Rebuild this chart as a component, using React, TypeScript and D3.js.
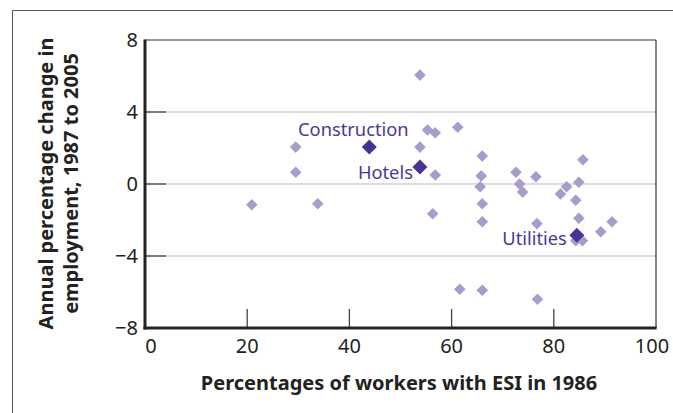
import React from 'react';
import * as d3 from 'd3';

// Percentage of workers with ESI in 1986 vs annual employment change
const esiShare = [20.9, 29.5, 29.5, 33.8, 53.8, 53.8, 55.3, 56.8, 56.8, 56.3, 61.2, 61.6, 66.0, 65.8, 65.6, 66.0, 66.0, 66.0, 72.6, 73.3, 73.9, 76.5, 76.7, 76.8, 81.3, 82.5, 84.3, 84.9, 85.7, 84.9, 84.3, 85.6, 89.2, 91.4];
const empChange = [-1.15, 2.05, 0.65, -1.1, 6.05, 2.05, 3.0, 2.85, 0.5, -1.65, 3.15, -5.85, 1.55, 0.45, -0.15, -1.1, -2.1, -5.9, 0.65, 0.0, -0.45, 0.4, -2.2, -6.4, -0.55, -0.15, -0.9, 0.1, 1.35, -1.9, -3.15, -3.15, -2.65, -2.1];

const highlightNames = ['Construction', 'Hotels', 'Utilities'];
const highlightEsi = [43.9, 53.8, 84.5];
const highlightChange = [2.05, 0.95, -2.85];

const xTicks = [0, 20, 40, 60, 80, 100];
const yTicks = [8, 4, 0, -4, -8];

const W = 673;
const H = 413;
const margin = { top: 40, right: 17, bottom: 85, left: 145 };

const FONT = "'Noto Sans', 'Open Sans', sans-serif";
const LIGHT = '#a99ccc';
const DARK = '#4a3293';

const diamond = (cx: number, cy: number, r: number) =>
  `M${cx},${cy - r}L${cx + r},${cy}L${cx},${cy + r}L${cx - r},${cy}Z`;

const App: React.FC = () => {
  const x = d3.scaleLinear().domain([0, 100]).range([margin.left, W - margin.right]);
  const y = d3.scaleLinear().domain([-8, 8]).range([H - margin.bottom, margin.top]);

  // label placement relative to each highlighted point
  const labelPos = [
    { dx: -16, dy: -11, anchor: 'middle' },
    { dx: -7, dy: 12, anchor: 'end' },
    { dx: -10, dy: 10, anchor: 'end' },
  ];

  return (
    <svg width={W} height={H} style={{ position: 'absolute', left: 0, top: 0 }} fontFamily={FONT}>
      <rect width={W} height={H} fill="#fff" />
      {/* outer frame */}
      <line x1={12.5} x2={12.5} y1={10.5} y2={H} stroke="#555" strokeWidth={1} />
      <line x1={12.5} x2={W} y1={10.5} y2={10.5} stroke="#555" strokeWidth={1} />

      {/* grid lines */}
      {yTicks.filter(t => t !== 8 && t !== -8).map(t => (
        <g key={`g${t}`}>
          <line x1={x(0)} x2={x(100)} y1={y(t)} y2={y(t)} stroke="#bbb" strokeWidth={1} />
          <line x1={x(0)} x2={x(0) + 21} y1={y(t)} y2={y(t)} stroke="#444" strokeWidth={1.3} />
        </g>
      ))}
      {xTicks.filter(t => t !== 0 && t !== 100).map(t => (
        <line key={`xt${t}`} x1={x(t)} x2={x(t)} y1={y(-8)} y2={y(-8) - 19} stroke="#444" strokeWidth={1.3} />
      ))}

      {/* plot frame */}
      <line x1={x(0)} x2={x(100)} y1={y(8)} y2={y(8)} stroke="#333" strokeWidth={1.2} />
      <line x1={x(100)} x2={x(100)} y1={y(8)} y2={y(-8)} stroke="#333" strokeWidth={1.2} />
      <line x1={x(0)} x2={x(0)} y1={y(8) - 0.6} y2={y(-8) + 1.5} stroke="#222" strokeWidth={3} />
      <line x1={x(0) - 1.5} x2={x(100) + 0.6} y1={y(-8)} y2={y(-8)} stroke="#222" strokeWidth={3} />

      {/* points */}
      {esiShare.map((v, i) => (
        <path key={`p${i}`} d={diamond(x(v), y(empChange[i]), 5.8)} fill={LIGHT} />
      ))}
      {highlightEsi.map((v, i) => (
        <path key={`h${i}`} d={diamond(x(v), y(highlightChange[i]), 7.5)} fill={DARK} />
      ))}
      {highlightNames.map((n, i) => (
        <text
          key={`l${n}`}
          x={x(highlightEsi[i]) + labelPos[i].dx}
          y={y(highlightChange[i]) + labelPos[i].dy}
          textAnchor={labelPos[i].anchor as any}
          fontSize={18.3}
          fill="#4b3896"
        >
          {n}
        </text>
      ))}

      {/* tick labels */}
      {yTicks.map(t => (
        <text key={`yl${t}`} x={138} y={y(t)} dy="0.36em" textAnchor="end" fontSize={20} fill="#222">
          {t < 0 ? `\u2212${Math.abs(t)}` : t}
        </text>
      ))}
      {xTicks.map(t => (
        <text
          key={`xl${t}`}
          x={x(t) + (t === 0 ? 6 : t === 100 ? -4 : 0)}
          y={353}
          textAnchor="middle"
          fontSize={20}
          fill="#222"
        >
          {t}
        </text>
      ))}

      {/* axis titles */}
      <text x={399} y={390} textAnchor="middle" fontSize={20} fontWeight="bold" fill="#222">
        Percentages of workers with ESI in 1986
      </text>
      <g transform="translate(0, 183.5) rotate(-90)" fontSize={20} fontWeight="bold" fill="#222">
        <text x={0} y={53} textAnchor="middle">Annual percentage change in</text>
        <text x={0} y={78} textAnchor="middle">employment, 1987 to 2005</text>
      </g>
    </svg>
  );
};

export default App;
